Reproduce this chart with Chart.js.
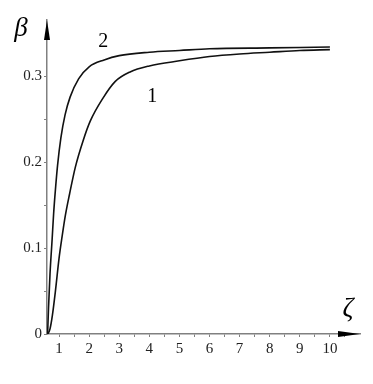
<!DOCTYPE html>
<html>
<head>
<meta charset="utf-8">
<script src="https://cdn.jsdelivr.net/npm/chart.js@4/dist/chart.umd.min.js"></script>
<style>
html,body{margin:0;padding:0;background:#fff;}
#wrap{position:relative;width:373px;height:384px;}
</style>
</head>
<body>
<div id="wrap"><canvas id="c" width="373" height="384"></canvas></div>
<script>
// Curve 1
const zeta1 = [0.63, 0.70, 0.78, 0.88, 1.0, 1.1, 1.21, 1.35, 1.54, 1.8, 2.04, 2.45, 2.87, 3.36, 4, 5, 6, 7, 8, 9, 10];
const beta1 = [0, 0.006, 0.022, 0.05, 0.088, 0.113, 0.138, 0.163, 0.194, 0.225, 0.248, 0.274, 0.294, 0.305, 0.312, 0.318, 0.323, 0.326, 0.328, 0.330, 0.331];
// Curve 2
const zeta2 = [0.62, 0.65, 0.7, 0.77, 0.82, 0.88, 0.95, 1.06, 1.2, 1.37, 1.65, 2.0, 2.5, 3, 4, 5, 6, 8, 10];
const beta2 = [0, 0.03, 0.07, 0.11, 0.14, 0.168, 0.196, 0.228, 0.255, 0.276, 0.297, 0.311, 0.319, 0.324, 0.328, 0.330, 0.332, 0.333, 0.334];
// Tick labels
const xTickLabels = [1, 2, 3, 4, 5, 6, 7, 8, 9, 10];
const yTickLabels = [0, 0.1, 0.2, 0.3];
const curveNames = ['1', '2'];

const pts = (xs, ys) => xs.map((x, i) => ({x: x, y: ys[i]}));

const xTicks = [];
for (let v = 1; v <= 10.5; v += 0.5) xTicks.push(v);
const yTicks = [];
for (let v = 0; v <= 0.3001; v += 0.05) yTicks.push(Math.round(v * 100) / 100);

const overlay = {
  id: 'overlay',
  afterDraw(chart) {
    const ctx = chart.ctx;
    const xs = chart.scales.x, ys = chart.scales.y;
    const ca = chart.chartArea;
    ctx.save();
    ctx.fillStyle = '#000';
    // y arrow
    const ax = xs.getPixelForValue(xs.min);
    ctx.beginPath();
    ctx.moveTo(ax, ca.top);
    ctx.lineTo(ax - 3, ca.top + 20);
    ctx.lineTo(ax + 3, ca.top + 20);
    ctx.closePath();
    ctx.fill();
    // x arrow
    const ay = ys.getPixelForValue(0);
    ctx.beginPath();
    ctx.moveTo(ca.right, ay);
    ctx.lineTo(ca.right - 22, ay - 3);
    ctx.lineTo(ca.right - 22, ay + 3);
    ctx.closePath();
    ctx.fill();
    // axis titles
    ctx.font = 'italic 27px "Liberation Serif", "DejaVu Serif", serif';
    ctx.textAlign = 'center';
    ctx.textBaseline = 'middle';
    ctx.fillText('β', 21, 29);
    ctx.fillText('ζ', 348, 309);
    // curve labels
    ctx.font = '20px "Liberation Serif", serif';
    ctx.fillText(curveNames[1], xs.getPixelForValue(2.47), ys.getPixelForValue(0.34));
    ctx.fillText(curveNames[0], xs.getPixelForValue(4.1), ys.getPixelForValue(0.276));
    ctx.restore();
  }
};

new Chart(document.getElementById('c'), {
  type: 'line',
  data: {
    datasets: [
      {label: curveNames[0], data: pts(zeta1, beta1), borderColor: '#111', borderWidth: 1.6, pointRadius: 0, cubicInterpolationMode: 'monotone', fill: false},
      {label: curveNames[1], data: pts(zeta2, beta2), borderColor: '#111', borderWidth: 1.6, pointRadius: 0, cubicInterpolationMode: 'monotone', fill: false}
    ]
  },
  options: {
    responsive: false,
    animation: false,
    layout: {padding: {top: 20, right: 13, left: 0, bottom: 0}},
    plugins: {legend: {display: false}, tooltip: {enabled: false}},
    scales: {
      x: {
        type: 'linear', min: 0.6, max: 11,
        afterBuildTicks: s => { s.ticks = xTicks.map(v => ({value: v})); },
        afterFit: s => { s.height = 50; },
        border: {display: true, color: '#808080', width: 1.5},
        grid: {drawOnChartArea: false, drawTicks: true, tickLength: 3, color: '#808080', lineWidth: 1},
        ticks: {
          autoSkip: false, maxRotation: 0, padding: 3, color: '#222',
          font: {family: '"Liberation Serif", serif', size: 15},
          callback: v => xTickLabels.includes(v) ? String(v) : ''
        }
      },
      y: {
        type: 'linear', min: 0, max: 0.3655,
        afterBuildTicks: s => { s.ticks = yTicks.map(v => ({value: v})); },
        afterFit: s => { s.width = 47; },
        border: {display: true, color: '#808080', width: 1.5},
        grid: {drawOnChartArea: false, drawTicks: true, tickLength: 3, color: '#808080', lineWidth: 1},
        ticks: {
          autoSkip: false, padding: 2, color: '#222',
          font: {family: '"Liberation Serif", serif', size: 15},
          callback: v => yTickLabels.includes(v) ? String(v) : ''
        }
      }
    }
  },
  plugins: [overlay]
});
</script>
</body>
</html>
